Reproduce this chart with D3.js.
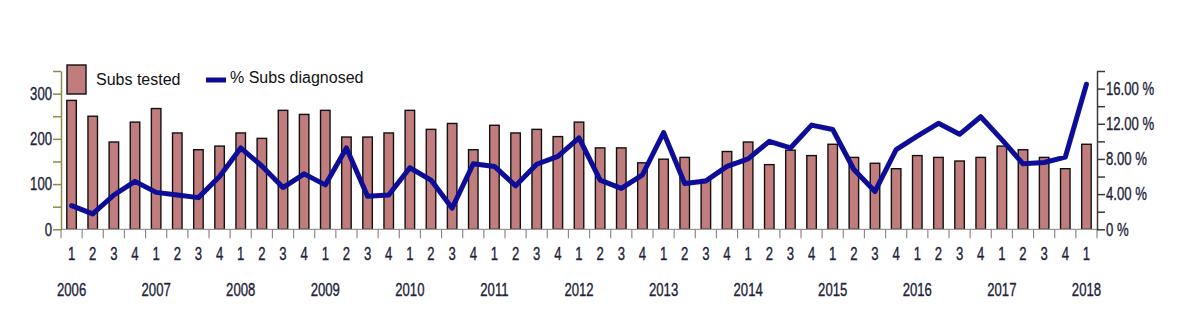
<!DOCTYPE html>
<html>
<head>
<meta charset="utf-8">
<script src="https://cdn.jsdelivr.net/npm/d3@7"></script>
<style>
  html, body { margin: 0; padding: 0; background: #fff; }
  svg { display: block; }
  text { font-family: "Liberation Sans", Arial, sans-serif; }
</style>
</head>
<body>
<svg id="chart" width="1187" height="335"></svg>
<script>
// Quarterly submissions tested and share diagnosed, 2006 Q1 – 2018 Q1
const years = [2006, 2007, 2008, 2009, 2010, 2011, 2012, 2013, 2014, 2015, 2016, 2017, 2018];
const quarterLabels = ["1", "2", "3", "4"];

const subsTested = [
  285, 250, 193, 237, 267, 213, 176, 184, 213, 201, 263, 254, 263, 204, 204, 213,
  263, 221, 234, 176, 230, 213, 221, 205, 237, 180, 180, 147, 155, 159, 110, 172,
  193, 143, 175, 163, 188, 159, 146, 134, 163, 159, 151, 159, 184, 176, 159, 134,
  188
];

const pctDiagnosed = [
  2.7, 1.75, 3.9, 5.45, 4.2, 3.9, 3.6, 6.0, 9.25, 7.2, 4.75, 6.3, 5.05, 9.25, 3.75, 3.9,
  7.0, 5.6, 2.4, 7.45, 7.15, 4.95, 7.4, 8.3, 10.4, 5.6, 4.65, 6.2, 11.0, 5.2, 5.5, 7.15,
  8.0, 10.0, 9.25, 11.85, 11.35, 6.8, 4.3, 9.05, 10.6, 12.05, 10.8, 12.8, 10.2, 7.45, 7.6, 8.2,
  16.5
];

const leftTicks = [0, 50, 100, 150, 200, 250, 300, 350];
const rightTicks = [0, 2, 4, 6, 8, 10, 12, 14, 16, 18];

// one entry per quarter
const periods = subsTested.map((v, i) => ({
  i,
  year: years[0] + Math.floor(i / 4),
  q: quarterLabels[i % 4],
  tested: v,
  pct: pctDiagnosed[i]
}));

const svg = d3.select("#chart");
const plotLeft = 61, plotRight = 1097, plotBottom = 229.3, plotTop = 71;

const x = d3.scaleBand().domain(periods.map(d => d.i)).range([plotLeft, plotRight]).padding(0);
const yL = d3.scaleLinear().domain([0, 350]).range([plotBottom, plotTop]);
const yR = d3.scaleLinear().domain([0, 18]).range([plotBottom, plotTop]);

const barFill = "#c17d7d";
const lineColor = "#0b0b98";
const labelColor = "#22223a";
const squeeze = 0.73;
const labelSize = 18;

const defs = svg.append("defs");
defs.append("filter").attr("id", "soft")
  .append("feGaussianBlur").attr("stdDeviation", 0.55);

// bars
const barW = x.bandwidth() * 0.45;
svg.append("g").selectAll("rect")
  .data(periods).join("rect")
  .attr("x", d => x(d.i) + (x.bandwidth() - barW) / 2)
  .attr("y", d => yL(d.tested))
  .attr("width", barW)
  .attr("height", d => plotBottom - yL(d.tested))
  .attr("fill", barFill)
  .attr("stroke", "#111")
  .attr("stroke-width", 1.4);

// category axis: baseline plus tick marks at quarter boundaries
const xg = svg.append("g");
xg.append("line")
  .attr("x1", plotLeft).attr("x2", plotRight)
  .attr("y1", plotBottom).attr("y2", plotBottom)
  .attr("stroke", "#9a9a9a").attr("stroke-width", 1.2);
xg.selectAll("line.tick")
  .data(d3.range(periods.length + 1)).join("line")
  .attr("class", "tick")
  .attr("x1", k => plotLeft + k * x.step()).attr("x2", k => plotLeft + k * x.step())
  .attr("y1", plotBottom).attr("y2", plotBottom + 9)
  .attr("stroke", "#8a8a8a").attr("stroke-width", 1.2);

// narrow, slightly heavy tick lettering
function styleLabel(t) {
  t.attr("font-size", labelSize).attr("fill", labelColor)
    .attr("stroke", labelColor).attr("stroke-width", 0.35)
    .attr("font-family", "'Liberation Sans', Arial, sans-serif");
}

function squeezedText(g, px, py, str, anchor) {
  const t = g.append("text")
    .attr("transform", `translate(${px},${py}) scale(${squeeze},1)`)
    .attr("text-anchor", anchor)
    .text(str);
  styleLabel(t);
}

periods.forEach(d => {
  squeezedText(xg, x(d.i) + x.bandwidth() / 2, 260, d.q, "middle");
});
periods.filter(d => d.q === "1").forEach(d => {
  squeezedText(xg, x(d.i) + x.bandwidth() / 2, 296, String(d.year), "middle");
});

// left axis: counts
const gL = svg.append("g").attr("transform", `translate(${plotLeft},0)`)
  .call(d3.axisLeft(yL).tickValues(leftTicks).tickSize(8).tickSizeOuter(0).tickPadding(1)
    .tickFormat(v => v % 100 === 0 ? String(v) : ""));
gL.select(".domain").attr("stroke", "#8c8c48").attr("stroke-width", 1.5);
gL.selectAll(".tick line").attr("stroke", "#8c8c48").attr("stroke-width", 1.5);
gL.selectAll(".tick text").each(function () {
  const t = d3.select(this);
  const tx = +t.attr("x");
  t.attr("x", 0).attr("transform", `translate(${tx},0) scale(${squeeze},1)`);
  styleLabel(t);
});

// right axis: percent diagnosed
const gR = svg.append("g").attr("transform", `translate(${plotRight},0)`)
  .call(d3.axisRight(yR).tickValues(rightTicks).tickSize(8).tickSizeOuter(0).tickPadding(1)
    .tickFormat(v => v === 0 ? "0 %" : (v % 4 === 0 ? d3.format(".2f")(v) + " %" : "")));
gR.select(".domain").attr("stroke", "#3a3a3a").attr("stroke-width", 1.5);
gR.selectAll(".tick line").attr("stroke", "#3a3a3a").attr("stroke-width", 1.5);
gR.selectAll(".tick text").each(function () {
  const t = d3.select(this);
  const tx = +t.attr("x");
  t.attr("x", 0).attr("transform", `translate(${tx},0) scale(${squeeze},1)`);
  styleLabel(t);
});

// percent line
const line = d3.line()
  .x(d => x(d.i) + x.bandwidth() / 2)
  .y(d => yR(d.pct));
svg.append("path")
  .datum(periods)
  .attr("d", line)
  .attr("fill", "none")
  .attr("stroke", lineColor)
  .attr("stroke-width", 5)
  .attr("stroke-linejoin", "round")
  .attr("stroke-linecap", "round")
  .attr("filter", "url(#soft)");

// legend
const lg = svg.append("g");
lg.append("rect").attr("x", 67).attr("y", 65).attr("width", 19).attr("height", 29)
  .attr("fill", barFill).attr("stroke", "#111").attr("stroke-width", 1.4);
lg.append("text").attr("x", 96).attr("y", 85).attr("font-size", 16).attr("fill", "#111")
  .text("Subs tested");
lg.append("rect").attr("x", 206).attr("y", 77.5).attr("width", 20).attr("height", 5)
  .attr("fill", lineColor);
lg.append("text").attr("x", 230).attr("y", 82.5).attr("font-size", 16).attr("fill", "#111")
  .text("% Subs diagnosed");
</script>
</body>
</html>
